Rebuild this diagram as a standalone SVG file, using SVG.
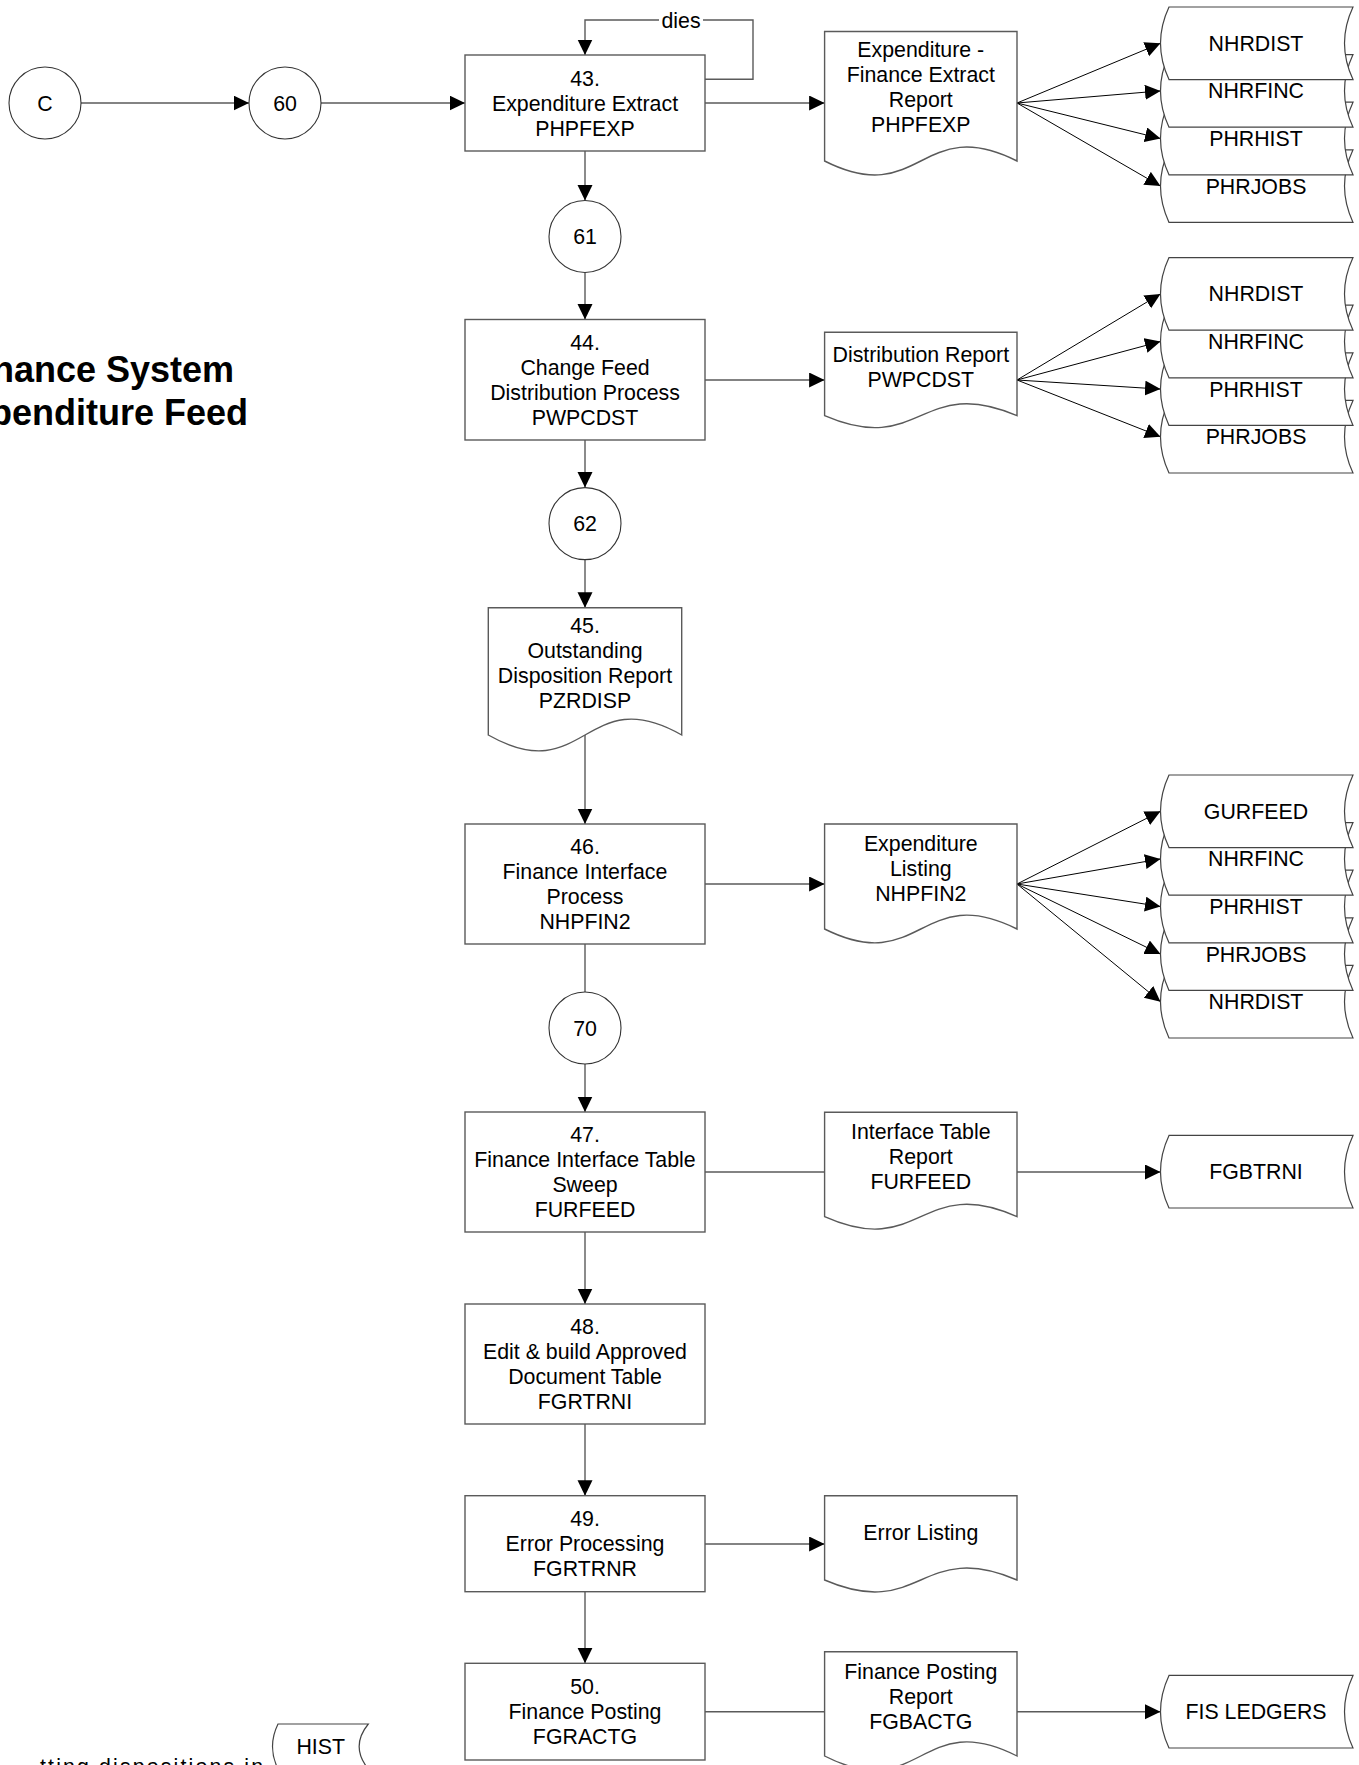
<svg xmlns="http://www.w3.org/2000/svg" width="1359" height="1765" viewBox="0 0 1359 1765">
<style>
.box{fill:#fff;stroke:#5a5a5a;stroke-width:1.4}
.circ{fill:#fff;stroke:#333;stroke-width:1.1}
.doc{fill:#fff;stroke:#5a5a5a;stroke-width:1.4}
.store{fill:#fff;stroke:#444;stroke-width:1.2}
.t{font-family:"Liberation Sans",Arial,Helvetica,sans-serif;font-size:21.33px;text-anchor:middle;fill:#000}
.title{font-family:"Liberation Sans",Arial,Helvetica,sans-serif;font-size:36px;font-weight:bold;text-anchor:middle;fill:#000}
.conn{fill:none;stroke:#5a5a5a;stroke-width:1.4}
.fan{fill:none;stroke:#000;stroke-width:1}
</style>
<defs>
<marker id="arr" markerUnits="userSpaceOnUse" markerWidth="17" markerHeight="16" refX="15.5" refY="7.5" orient="auto">
<path d="M0,0 L15.5,7.5 L0,15 Z" fill="#000"/>
</marker>
</defs>
<rect width="1359" height="1765" fill="#fff"/>

<g id="title">
<text class="title" x="97" y="381.5">Finance System</text>
<text class="title" x="97" y="425">Expenditure Feed</text>
</g>

<g id="connectors">
<path class="conn" d="M81,103 L249,103" marker-end="url(#arr)"/>
<path class="conn" d="M321,103 L465,103" marker-end="url(#arr)"/>
<path class="conn" d="M705,103 L824.6,103" marker-end="url(#arr)"/>
<path class="conn" d="M705,79.3 L753,79.3 L753,20 L585,20 L585,55" marker-end="url(#arr)"/>
<path class="conn" d="M585,151 L585,200.5" marker-end="url(#arr)"/>
<path class="conn" d="M585,272.5 L585,319.5" marker-end="url(#arr)"/>
<path class="conn" d="M705,380 L824.6,380" marker-end="url(#arr)"/>
<path class="conn" d="M585,440 L585,487.6" marker-end="url(#arr)"/>
<path class="conn" d="M585,559.6 L585,607.7" marker-end="url(#arr)"/>
<path class="conn" d="M585,735 L585,824" marker-end="url(#arr)"/>
<path class="conn" d="M705,884 L824.6,884" marker-end="url(#arr)"/>
<path class="conn" d="M585,944 L585,992"/>
<path class="conn" d="M585,1064 L585,1112" marker-end="url(#arr)"/>
<path class="conn" d="M705,1172 L824.6,1172"/>
<path class="conn" d="M1017,1172 L1160.5,1172" marker-end="url(#arr)"/>
<path class="conn" d="M585,1232 L585,1304" marker-end="url(#arr)"/>
<path class="conn" d="M585,1424 L585,1495.7" marker-end="url(#arr)"/>
<path class="conn" d="M705,1544 L824.6,1544" marker-end="url(#arr)"/>
<path class="conn" d="M585,1591.7 L585,1663.3" marker-end="url(#arr)"/>
<path class="conn" d="M705,1711.7 L824.6,1711.7"/>
<path class="conn" d="M1017,1711.7 L1160.5,1711.7" marker-end="url(#arr)"/>
<path class="fan" d="M1017,103 L1160.5,43.3" marker-end="url(#arr)"/>
<path class="fan" d="M1017,103 L1160.5,90.9" marker-end="url(#arr)"/>
<path class="fan" d="M1017,103 L1160.5,138.5" marker-end="url(#arr)"/>
<path class="fan" d="M1017,103 L1160.5,186.1" marker-end="url(#arr)"/>
<path class="fan" d="M1017,380 L1160.5,293.9" marker-end="url(#arr)"/>
<path class="fan" d="M1017,380 L1160.5,341.5" marker-end="url(#arr)"/>
<path class="fan" d="M1017,380 L1160.5,389.1" marker-end="url(#arr)"/>
<path class="fan" d="M1017,380 L1160.5,436.7" marker-end="url(#arr)"/>
<path class="fan" d="M1017,884 L1160.5,811.3" marker-end="url(#arr)"/>
<path class="fan" d="M1017,884 L1160.5,858.9" marker-end="url(#arr)"/>
<path class="fan" d="M1017,884 L1160.5,906.5" marker-end="url(#arr)"/>
<path class="fan" d="M1017,884 L1160.5,954.1" marker-end="url(#arr)"/>
<path class="fan" d="M1017,884 L1160.5,1001.7" marker-end="url(#arr)"/>
<rect x="659" y="8" width="44" height="24" fill="#fff"/>
<text class="t" x="681" y="27.5">dies</text>
</g>

<g id="nodeC">
<circle class="circ" cx="45" cy="103" r="36"/>
<text class="t" x="45" y="110.5">C</text>
</g>
<g id="node60">
<circle class="circ" cx="285" cy="103" r="36"/>
<text class="t" x="285" y="110.5">60</text>
</g>

<g id="node43">
<rect class="box" x="465" y="55" width="240" height="96"/>
<text class="t" x="585" y="85.5">43.</text>
<text class="t" x="585" y="110.5">Expenditure Extract</text>
<text class="t" x="585" y="135.5">PHPFEXP</text>
</g>
<g id="doc43">
<path class="doc" d="M824.6,31.5 L1017,31.5 L1017,161 C920.8,112.5 920.8,209.5 824.6,161 Z"/>
<text class="t" x="920.8" y="57">Expenditure -</text>
<text class="t" x="920.8" y="82">Finance Extract</text>
<text class="t" x="920.8" y="107">Report</text>
<text class="t" x="920.8" y="132">PHPFEXP</text>
</g>
<g id="store43">
<path class="store" d="M1169,149.8 L1353,149.8 Q1336,186.1 1353,222.4 L1169,222.4 Q1152,186.1 1169,149.8 Z"/>
<text class="t" x="1256" y="193.6">PHRJOBS</text>
<path class="store" d="M1169,102.2 L1353,102.2 Q1336,138.5 1353,174.8 L1169,174.8 Q1152,138.5 1169,102.2 Z"/>
<text class="t" x="1256" y="146">PHRHIST</text>
<path class="store" d="M1169,54.6 L1353,54.6 Q1336,90.9 1353,127.2 L1169,127.2 Q1152,90.9 1169,54.6 Z"/>
<text class="t" x="1256" y="98.4">NHRFINC</text>
<path class="store" d="M1169,7 L1353,7 Q1336,43.3 1353,79.6 L1169,79.6 Q1152,43.3 1169,7 Z"/>
<text class="t" x="1256" y="50.8">NHRDIST</text>
</g>

<g id="node61">
<circle class="circ" cx="585" cy="236.5" r="36"/>
<text class="t" x="585" y="244">61</text>
</g>

<g id="node44">
<rect class="box" x="465" y="319.5" width="240" height="120.5"/>
<text class="t" x="585" y="349.7">44.</text>
<text class="t" x="585" y="374.7">Change Feed</text>
<text class="t" x="585" y="399.7">Distribution Process</text>
<text class="t" x="585" y="424.7">PWPCDST</text>
</g>
<g id="doc44">
<path class="doc" d="M824.6,332.3 L1017,332.3 L1017,415.7 C920.8,374.2 920.8,457.2 824.6,415.7 Z"/>
<text class="t" x="920.8" y="362">Distribution Report</text>
<text class="t" x="920.8" y="387">PWPCDST</text>
</g>
<g id="store44">
<path class="store" d="M1169,400.4 L1353,400.4 Q1336,436.7 1353,473 L1169,473 Q1152,436.7 1169,400.4 Z"/>
<text class="t" x="1256" y="444.2">PHRJOBS</text>
<path class="store" d="M1169,352.8 L1353,352.8 Q1336,389.1 1353,425.4 L1169,425.4 Q1152,389.1 1169,352.8 Z"/>
<text class="t" x="1256" y="396.6">PHRHIST</text>
<path class="store" d="M1169,305.2 L1353,305.2 Q1336,341.5 1353,377.8 L1169,377.8 Q1152,341.5 1169,305.2 Z"/>
<text class="t" x="1256" y="349">NHRFINC</text>
<path class="store" d="M1169,257.6 L1353,257.6 Q1336,293.9 1353,330.2 L1169,330.2 Q1152,293.9 1169,257.6 Z"/>
<text class="t" x="1256" y="301.4">NHRDIST</text>
</g>

<g id="node62">
<circle class="circ" cx="585" cy="523.6" r="36"/>
<text class="t" x="585" y="531.1">62</text>
</g>

<g id="node45">
<path class="doc" d="M488.3,607.7 L681.7,607.7 L681.7,735 C585,680 585,790 488.3,735 Z"/>
<text class="t" x="585" y="633.3">45.</text>
<text class="t" x="585" y="658.3">Outstanding</text>
<text class="t" x="585" y="683.3">Disposition Report</text>
<text class="t" x="585" y="708.3">PZRDISP</text>
</g>

<g id="node46">
<rect class="box" x="465" y="824" width="240" height="120"/>
<text class="t" x="585" y="854">46.</text>
<text class="t" x="585" y="879">Finance Interface</text>
<text class="t" x="585" y="904">Process</text>
<text class="t" x="585" y="929">NHPFIN2</text>
</g>
<g id="doc46">
<path class="doc" d="M824.6,824 L1017,824 L1017,929 C920.8,881 920.8,977 824.6,929 Z"/>
<text class="t" x="920.8" y="850.9">Expenditure</text>
<text class="t" x="920.8" y="875.9">Listing</text>
<text class="t" x="920.8" y="900.9">NHPFIN2</text>
</g>
<g id="store46">
<path class="store" d="M1169,965.4 L1353,965.4 Q1336,1001.7 1353,1038 L1169,1038 Q1152,1001.7 1169,965.4 Z"/>
<text class="t" x="1256" y="1009.2">NHRDIST</text>
<path class="store" d="M1169,917.8 L1353,917.8 Q1336,954.1 1353,990.4 L1169,990.4 Q1152,954.1 1169,917.8 Z"/>
<text class="t" x="1256" y="961.6">PHRJOBS</text>
<path class="store" d="M1169,870.2 L1353,870.2 Q1336,906.5 1353,942.8 L1169,942.8 Q1152,906.5 1169,870.2 Z"/>
<text class="t" x="1256" y="914">PHRHIST</text>
<path class="store" d="M1169,822.6 L1353,822.6 Q1336,858.9 1353,895.2 L1169,895.2 Q1152,858.9 1169,822.6 Z"/>
<text class="t" x="1256" y="866.4">NHRFINC</text>
<path class="store" d="M1169,775 L1353,775 Q1336,811.3 1353,847.6 L1169,847.6 Q1152,811.3 1169,775 Z"/>
<text class="t" x="1256" y="818.8">GURFEED</text>
</g>

<g id="node70">
<circle class="circ" cx="585" cy="1028" r="36"/>
<text class="t" x="585" y="1035.5">70</text>
</g>

<g id="node47">
<rect class="box" x="465" y="1112" width="240" height="120"/>
<text class="t" x="585" y="1142">47.</text>
<text class="t" x="585" y="1167">Finance Interface Table</text>
<text class="t" x="585" y="1192">Sweep</text>
<text class="t" x="585" y="1217">FURFEED</text>
</g>
<g id="doc47">
<path class="doc" d="M824.6,1112.3 L1017,1112.3 L1017,1216.7 C920.8,1173.7 920.8,1259.7 824.6,1216.7 Z"/>
<text class="t" x="920.8" y="1139.1">Interface Table</text>
<text class="t" x="920.8" y="1164.1">Report</text>
<text class="t" x="920.8" y="1189.1">FURFEED</text>
</g>
<g id="storeFGBTRNI">
<path class="store" d="M1169,1135.4 L1353,1135.4 Q1336,1171.7 1353,1208 L1169,1208 Q1152,1171.7 1169,1135.4 Z"/>
<text class="t" x="1256" y="1179.2">FGBTRNI</text>
</g>

<g id="node48">
<rect class="box" x="465" y="1304" width="240" height="120"/>
<text class="t" x="585" y="1334">48.</text>
<text class="t" x="585" y="1359">Edit &amp; build Approved</text>
<text class="t" x="585" y="1384">Document Table</text>
<text class="t" x="585" y="1409">FGRTRNI</text>
</g>

<g id="node49">
<rect class="box" x="465" y="1495.7" width="240" height="96"/>
<text class="t" x="585" y="1526.2">49.</text>
<text class="t" x="585" y="1551.2">Error Processing</text>
<text class="t" x="585" y="1576.2">FGRTRNR</text>
</g>
<g id="docError">
<path class="doc" d="M824.6,1495.7 L1017,1495.7 L1017,1580 C920.8,1538.5 920.8,1621.5 824.6,1580 Z"/>
<text class="t" x="920.8" y="1539.8">Error Listing</text>
</g>

<g id="node50">
<rect class="box" x="465" y="1663.3" width="240" height="96.7"/>
<text class="t" x="585" y="1694.2">50.</text>
<text class="t" x="585" y="1719.2">Finance Posting</text>
<text class="t" x="585" y="1744.2">FGRACTG</text>
</g>
<g id="doc50">
<path class="doc" d="M824.6,1651.7 L1017,1651.7 L1017,1756 C920.8,1707 920.8,1805 824.6,1756 Z"/>
<text class="t" x="920.8" y="1678.7">Finance Posting</text>
<text class="t" x="920.8" y="1703.7">Report</text>
<text class="t" x="920.8" y="1728.7">FGBACTG</text>
</g>
<g id="storeFIS">
<path class="store" d="M1169,1675.4 L1353,1675.4 Q1336,1711.7 1353,1748 L1169,1748 Q1152,1711.7 1169,1675.4 Z"/>
<text class="t" x="1256" y="1719.2">FIS LEDGERS</text>
</g>

<g id="note">
<text class="t" x="40" y="1774" style="text-anchor:start" textLength="223" lengthAdjust="spacing">tting dispositions in</text>
</g>
<g id="storeHIST">
<path class="store" d="M278,1724 L368.3,1724 Q350,1746.5 368.3,1769 L278,1769 Q267,1746.5 278,1724 Z"/>
<text class="t" x="320.7" y="1754.2">HIST</text>
</g>
</svg>
